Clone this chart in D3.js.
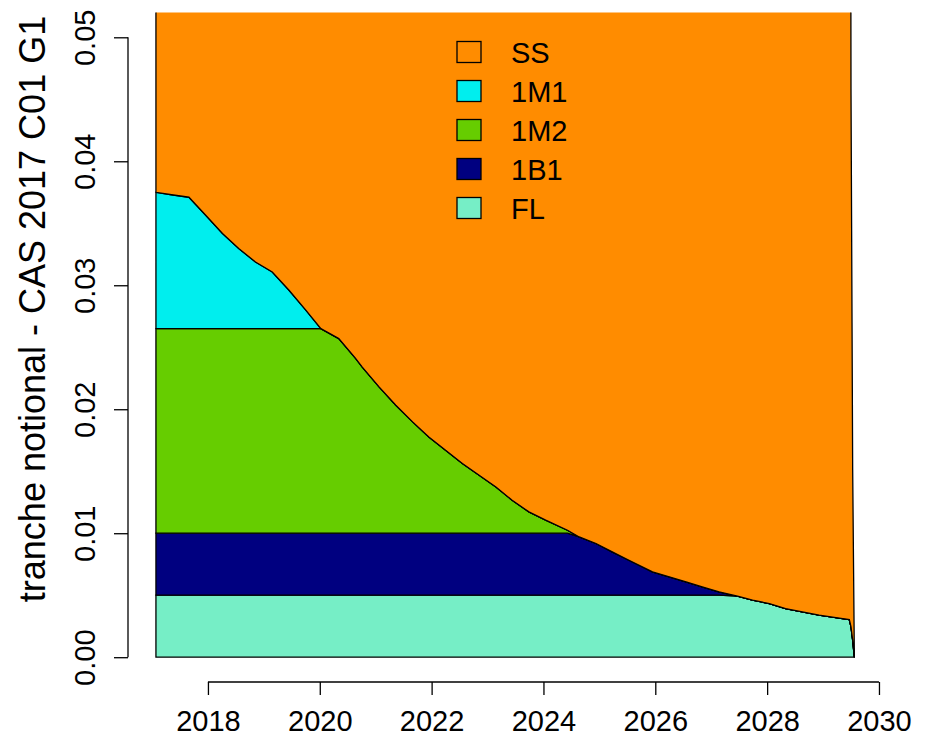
<!DOCTYPE html>
<html>
<head>
<meta charset="utf-8">
<script src="https://cdn.jsdelivr.net/npm/d3@7"></script>
<style>
  body { margin: 0; background: #fff; }
  text { font-family: "Liberation Sans", Arial, sans-serif; fill: #000; }
</style>
</head>
<body>
<div class="chart"></div>
<script>
// payment dates (decimal years)
const years = [2017.07, 2017.35, 2017.66, 2017.96, 2018.26, 2018.55, 2018.85, 2019.15, 2019.45, 2019.75,
  2020.02, 2020.34, 2020.64, 2020.76, 2021.06, 2021.36, 2021.66, 2021.95, 2022.25, 2022.55,
  2022.85, 2023.15, 2023.44, 2023.74, 2024.04, 2024.43, 2024.64, 2024.94, 2025.23, 2025.53,
  2025.95, 2026.25, 2026.55, 2026.84, 2027.14, 2027.47, 2027.74, 2028.04, 2028.33, 2028.63,
  2028.93, 2029.23, 2029.47, 2029.50, 2029.53, 2029.56]

// notional of everything below SS (sum of subordinate tranches)
const subordinate = [0.0375, 0.0373, 0.0371, 0.03565, 0.03417, 0.03296, 0.03188, 0.03107, 0.0296, 0.0280,
  0.0265, 0.0257, 0.0241, 0.0234, 0.0218, 0.02032, 0.01898, 0.01777, 0.01669, 0.01562,
  0.01468, 0.01373, 0.01266, 0.01172, 0.01105, 0.01024, 0.0097, 0.00917, 0.0085, 0.00782,
  0.00688, 0.00648, 0.00607, 0.00567, 0.00527, 0.00492, 0.0046, 0.00433, 0.00392, 0.00365,
  0.00339, 0.0032, 0.00304, 0.00245, 0.00137, 0]

// whole pool (top of SS), mostly far above the visible range
const pool = [1.00, 0.98, 0.96, 0.93, 0.90, 0.87, 0.84, 0.81, 0.78, 0.75,
  0.72, 0.69, 0.66, 0.65, 0.62, 0.59, 0.56, 0.53, 0.51, 0.48,
  0.46, 0.44, 0.42, 0.40, 0.38, 0.36, 0.35, 0.33, 0.31, 0.30,
  0.28, 0.26, 0.25, 0.23, 0.22, 0.21, 0.20, 0.19, 0.18, 0.17,
  0.16, 0.15, 0.14, 0.0458, 0.0151, 0]

// tranche attachment / detachment points
const tranches = ["FL", "1B1", "1M2", "1M1"]
const attach = [0, 0.005, 0.01, 0.0265]
const detach = [0.005, 0.01, 0.0265, 1]

const legendKeys = ["SS", "1M1", "1M2", "1B1", "FL"]
const colors = {SS: "#FF8C00", "1M1": "#00EEEE", "1M2": "#66CD00", "1B1": "#000080", FL: "#76EEC6"}

const xTicks = [2018, 2020, 2022, 2024, 2026, 2028, 2030]
const yTicks = [0, 0.01, 0.02, 0.03, 0.04, 0.05]
const ylabel = "tranche notional - CAS 2017 C01 G1"

function setupChart(){
    const width = 936, height = 741
    const left = 128, right = 882.3, top = 12.5, bottom = 682

    let rows = years.map(function(yr, i){
        let row = {year: yr}
        tranches.forEach(function(t, j){
            row[t] = Math.max(0, Math.min(subordinate[i], detach[j]) - attach[j])
        })
        row.SS = pool[i] - subordinate[i]
        return row
    })

    // R style 4% padding on both axes
    let xe = d3.extent(years), xp = (xe[1] - xe[0]) * 0.04
    let x = d3.scaleLinear().domain([xe[0] - xp, xe[1] + xp]).range([left, right])
    let y = d3.scaleLinear().domain([-0.002, 0.052]).range([bottom, top])

    let svg = d3.select(".chart").append("svg")
        .attr("width", width)
        .attr("height", height)

    svg.append("clipPath").attr("id", "plot")
        .append("rect")
        .attr("x", left).attr("y", top)
        .attr("width", right - left).attr("height", bottom - top)

    let stack = d3.stack().keys(tranches.concat(["SS"]))
    let area = d3.area()
        .x(d => x(d.data.year))
        .y0(d => y(d[0]))
        .y1(d => y(d[1]))

    svg.append("g").attr("clip-path", "url(#plot)")
        .selectAll("path")
        .data(stack(rows))
        .enter()
        .append("path")
        .attr("d", area)
        .attr("fill", d => colors[d.key])
        .attr("stroke", "#000")
        .attr("stroke-width", 1.3)
        .attr("stroke-linejoin", "miter")

    // x axis
    let xa = svg.append("g").attr("transform", "translate(0," + bottom + ")")
        .call(d3.axisBottom(x).tickValues(xTicks).tickFormat(d3.format("d")).tickSize(13).tickPadding(15))
    xa.select(".domain").remove()
    xa.append("line")
        .attr("x1", x(xTicks[0])).attr("x2", x(xTicks[xTicks.length - 1]))
        .attr("stroke", "#000").attr("stroke-width", 1.3)
    xa.selectAll(".tick line").attr("stroke-width", 1.3)
    xa.selectAll("text").attr("font-size", 29).attr("fill", "#000")
        .attr("font-family", "Liberation Sans, Arial, sans-serif")

    // y axis
    let ya = svg.append("g").attr("transform", "translate(" + left + ",0)")
        .call(d3.axisLeft(y).tickValues(yTicks).tickFormat(d3.format(".2f")).tickSize(14))
    ya.select(".domain").remove()
    ya.append("line")
        .attr("y1", y(yTicks[0])).attr("y2", y(yTicks[yTicks.length - 1]))
        .attr("stroke", "#000").attr("stroke-width", 1.3)
    ya.selectAll(".tick line").attr("stroke-width", 1.3)
    ya.selectAll("text")
        .attr("font-size", 29).attr("fill", "#000")
        .attr("font-family", "Liberation Sans, Arial, sans-serif")
        .attr("x", null).attr("dy", null)
        .attr("text-anchor", "middle")
        .attr("transform", "translate(-33,0) rotate(-90)")

    svg.append("text")
        .attr("transform", "translate(45,309) rotate(-90)")
        .attr("text-anchor", "middle")
        .attr("font-size", 36)
        .text(ylabel)

    // legend, no box
    let lg = svg.append("g").selectAll("g")
        .data(legendKeys)
        .enter()
        .append("g")
        .attr("transform", (d, i) => "translate(457," + (52 + i * 39) + ")")

    lg.append("rect")
        .attr("x", 0).attr("y", -10.5)
        .attr("width", 24).attr("height", 21)
        .attr("fill", d => colors[d])
        .attr("stroke", "#000").attr("stroke-width", 1.3)

    lg.append("text")
        .attr("x", 54).attr("y", 10.5)
        .attr("font-size", 29)
        .text(d => d)
}

setupChart()
</script>
</body>
</html>
